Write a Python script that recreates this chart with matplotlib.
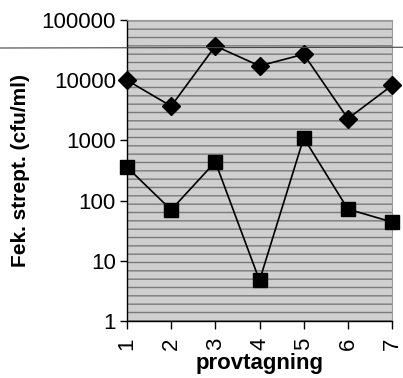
import numpy as np
import matplotlib.pyplot as plt
from matplotlib.ticker import FixedLocator, FixedFormatter
from matplotlib.lines import Line2D

# ====> data
provtagning = [1, 2, 3, 4, 5, 6, 7]
serie_romb = [10000, 3700, 37000, 17300, 27000, 2300, 8200]
serie_kvadrat = [360, 70, 440, 4.7, 1100, 72, 44]
y_ticks = [1, 10, 100, 1000, 10000, 100000]
y_labels = ['1', '10', '100', '1000', '10000', '100000']

plt.rcParams['font.family'] = ['Liberation Sans', 'DejaVu Sans']
plt.rcParams['hatch.color'] = '#6e6e6e'
plt.rcParams['hatch.linewidth'] = 1.0

fig = plt.figure(figsize=(4.03, 3.78), dpi=100)
ax = fig.add_axes([0.315, 0.151, 0.658, 0.796])

# ====> grey, dashed background like the old excel pattern
ax.set_facecolor('#cfcfcf')
ax.add_patch(plt.Rectangle((0, 0), 1, 1, transform=ax.transAxes,
                           facecolor='none', hatch='--', edgecolor='#7a7a7a',
                           linewidth=0, zorder=0))

ax.plot(provtagning, serie_romb, color='black', linewidth=1.2,
        marker='D', markersize=9, markerfacecolor='black', zorder=3,
        clip_on=False)
ax.plot(provtagning, serie_kvadrat, color='black', linewidth=1.2,
        marker='s', markersize=10, markerfacecolor='black', zorder=3,
        clip_on=False)

ax.set_yscale('log')
ax.set_ylim(1, 100000)
ax.set_xlim(1, 7)
ax.yaxis.set_major_locator(FixedLocator(y_ticks))
ax.yaxis.set_major_formatter(FixedFormatter(y_labels))
ax.yaxis.set_minor_locator(FixedLocator([]))
ax.set_xticks(provtagning)
ax.set_xticklabels([str(p) for p in provtagning], rotation=90)

ax.tick_params(axis='y', labelsize=16, direction='out', length=5, width=1, pad=3)
ax.tick_params(axis='x', labelsize=16, direction='out', length=6, width=1, pad=6)

for side in ['top', 'right']:
    ax.spines[side].set_color('#9a9a9a')
    ax.spines[side].set_linewidth(0.8)
ax.spines['left'].set_linewidth(1.0)
ax.spines['bottom'].set_linewidth(1.0)

ax.set_ylabel('Fek. strept. (cfu/ml)', fontsize=15, fontweight='bold', labelpad=8)
ax.set_xlabel('provtagning', fontsize=16, fontweight='bold', labelpad=2)

# line running across the scanned page
fig.add_artist(Line2D([0, 1], [0.873, 0.875], transform=fig.transFigure,
                      color='#444444', linewidth=0.8))

plt.savefig('out.png', dpi=100)
plt.close()
